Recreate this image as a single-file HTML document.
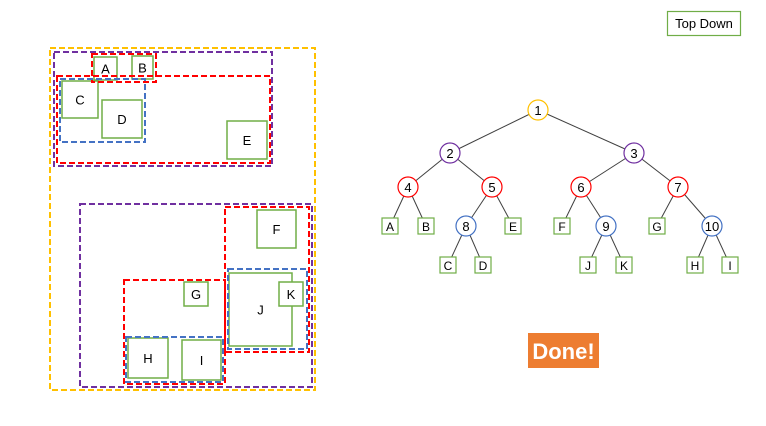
<!DOCTYPE html>
<html><head><meta charset="utf-8"><style>
html,body{margin:0;padding:0;background:#fff;}
svg{display:block;font-family:"Liberation Sans",sans-serif;}
</style></head><body>
<svg id="s" width="766" height="426" viewBox="0 0 766 426">
<rect x="667.5" y="11.5" width="73" height="24" fill="#fff" stroke="#70ad47" stroke-width="1.2"/>
<text x="704" y="28" font-size="13" text-anchor="middle" fill="#000">Top Down</text>
<rect x="528" y="333" width="71" height="35" fill="#ed7d31"/>
<text x="563.5" y="359" font-size="22" font-weight="bold" text-anchor="middle" fill="#fff">Done!</text>
</svg>
<script>
// bounding rectangles: [x1,y1,x2,y2,color]
const mbrs=[[50,48,315,390,'#ffc000'],[54,52,272,166,'#7030a0'],[92,54,156,82,'#ff0000'],[57,76,270,163,'#ff0000'],[60,79,145,142,'#4472c4'],
[80,204,312,387,'#7030a0'],[225,207,309,352,'#ff0000'],[228,269,307,349,'#4472c4'],[124,280,225,384,'#ff0000'],[126,337,223,382,'#4472c4']];
const objNames=['A','B','C','D','E','F','G','H','I','J','K'];
const objBoxes=[[94,57,117,80],[132,56,153,79],[62,81,98,118],[102,100,142,138],[227,121,267,159],[257,210,296,248],[184,282,208,306],[128,338,168,378],[182,340,221,380],[229,273,292,346],[279,282,303,306]];
// tree nodes
const nodeNames=['1','2','3','4','5','6','7','8','9','10'];
const nodeXY=[[538,110],[450,153],[634,153],[408,187],[492,187],[581,187],[678,187],[466,226],[606,226],[712,226]];
const nodeColors=['#ffc000','#7030a0','#7030a0','#ff0000','#ff0000','#ff0000','#ff0000','#4472c4','#4472c4','#4472c4'];
const nodeParent=[-1,0,0,1,1,2,2,4,5,6];
const leafNames=['A','B','E','F','G','C','D','J','K','H','I'];
const leafXY=[[390,226],[426,226],[513,226],[562,226],[657,226],[448,265],[483,265],[588,265],[624,265],[695,265],[730,265]];
const leafParent=[3,3,4,5,6,7,7,8,8,9,9];
const s=document.getElementById('s');
const NS='http://www.w3.org/2000/svg';
function mk(t,a){const e=document.createElementNS(NS,t);for(const k in a)e.setAttribute(k,a[k]);s.appendChild(e);return e;}
const front=s.firstElementChild;
// edges first
nodeParent.forEach((p,i)=>{if(p<0)return;const e=mk('line',{x1:nodeXY[p][0],y1:nodeXY[p][1],x2:nodeXY[i][0],y2:nodeXY[i][1],stroke:'#404040','stroke-width':1});

});
leafParent.forEach((p,i)=>{const e=mk('line',{x1:nodeXY[p][0],y1:nodeXY[p][1],x2:leafXY[i][0],y2:leafXY[i][1],stroke:'#404040','stroke-width':1});

});
objBoxes.forEach((b,i)=>{const r=mk('rect',{x:b[0],y:b[1],width:b[2]-b[0],height:b[3]-b[1],fill:'#fff',stroke:'#70ad47','stroke-width':1.5});


const t=mk('text',{x:(b[0]+b[2])/2,y:(b[1]+b[3])/2+5,'font-size':13,'text-anchor':'middle'});t.textContent=objNames[i];

});
mbrs.forEach((m,i)=>{const r=mk('rect',{x:m[0],y:m[1],width:m[2]-m[0],height:m[3]-m[1],fill:'none',stroke:m[4],'stroke-width':2,'stroke-dasharray':'6 3'});

});
nodeXY.forEach((p,i)=>{const c=mk('circle',{cx:p[0],cy:p[1],r:10,fill:'#fff',stroke:nodeColors[i],'stroke-width':1.2});


const t=mk('text',{x:p[0],y:p[1]+5,'font-size':13,'text-anchor':'middle'});t.textContent=nodeNames[i];

});
leafXY.forEach((p,i)=>{const r=mk('rect',{x:p[0]-8,y:p[1]-8,width:16,height:16,fill:'#fff',stroke:'#70ad47','stroke-width':1.2});


const t=mk('text',{x:p[0],y:p[1]+5,'font-size':12,'text-anchor':'middle'});t.textContent=leafNames[i];

});
</script>
</body></html>
